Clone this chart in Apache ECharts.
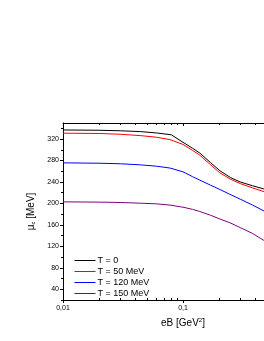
<!DOCTYPE html>
<html>
<head>
<meta charset="utf-8">
<script src="https://cdn.jsdelivr.net/npm/echarts@6/dist/echarts.min.js"></script>
<style>
html,body{margin:0;padding:0;background:#fff;overflow:hidden;width:264px;height:341px;}
#c{width:320px;height:341px;}
</style>
</head>
<body>
<div id="c"></div>
<script>
var seriesNames = ['T = 0', 'T = 50 MeV', 'T = 120 MeV', 'T = 150 MeV'];
var colors = ['#000000', '#ff0000', '#0000ff', '#800080'];
var t0 = [[0.01,337],[0.02,336.5],[0.03,335.5],[0.044,334],[0.06,331.5],[0.08,328],[0.1,314],[0.12,303],[0.138,294],[0.17,276],[0.203,261],[0.25,248],[0.3,240],[0.38,233],[0.473,227],[0.6,220]];
var t50 = [[0.01,331],[0.02,330.5],[0.03,329],[0.044,326.5],[0.06,323.5],[0.078,319],[0.1,310],[0.12,299],[0.138,290],[0.17,272],[0.203,257],[0.25,245],[0.3,237],[0.38,229],[0.473,222],[0.6,215]];
var t120 = [[0.01,275.7],[0.02,275],[0.03,274],[0.044,272],[0.06,269.5],[0.078,266],[0.1,259],[0.12,250],[0.138,243.5],[0.17,234],[0.203,226],[0.246,217],[0.3,208],[0.38,197],[0.473,186],[0.6,174]];
var t150 = [[0.01,203],[0.02,202.5],[0.03,201.8],[0.044,200.5],[0.06,199.3],[0.078,197],[0.1,193],[0.12,189],[0.138,185],[0.17,178],[0.203,171],[0.246,164],[0.3,155],[0.38,144],[0.473,131],[0.6,115]];
var yLabels = [40,80,120,160,200,240,280,320];
var yMinor = [20,60,100,140,180,220,260,300,340];
var xMajor = [0.01,0.1,1];
var xMinor = [0.02,0.03,0.04,0.05,0.06,0.07,0.08,0.09,0.2,0.3,0.4,0.5,0.6,0.7,0.8,0.9];

var font = 'Liberation Sans, Arial, sans-serif';
var chart = echarts.init(document.getElementById('c'), null, {renderer:'canvas'});
var data = [t0, t50, t120, t150];
var axisLine = {show:true, lineStyle:{color:'#000', width:1}};
chart.setOption({
  animation:false,
  grid:{left:63, right:17, top:123, bottom:41},
  legend:{
    orient:'vertical', left:69, top:250, itemWidth:21, itemHeight:8, itemGap:0,
    itemStyle:{opacity:0},
    lineStyle:{width:1},
    textStyle:{fontFamily:font, fontSize:9, lineHeight:11, color:'#000', padding:[0,0,0,-3]},
    data: seriesNames
  },
  xAxis:[
    {type:'log', min:0.01, max:1, logBase:10, position:'bottom',
     name:'eB [GeV{sup|2}]', nameLocation:'middle', nameGap:17,
     nameTextStyle:{fontFamily:font, fontSize:10, color:'#000', rich:{sup:{fontSize:6, verticalAlign:'top', padding:[0,0,6,0], fontFamily:font}}},
     axisLine:axisLine,
     axisTick:{show:true, inside:false, length:3, customValues:xMajor, lineStyle:{color:'#000'}},
     axisLabel:{show:true, customValues:xMajor, fontFamily:font, fontSize:7, color:'#000', margin:5,
       formatter:function(v){return String(v).replace('.',',');}},
     splitLine:{show:false}, minorTick:{show:false}},
    {type:'log', min:0.01, max:1, logBase:10, position:'bottom',
     axisLine:{show:false},
     axisTick:{show:true, inside:true, length:2, customValues:xMinor, lineStyle:{color:'#000'}},
     axisLabel:{show:false}, splitLine:{show:false}},
    {type:'log', min:0.01, max:1, logBase:10, position:'top',
     axisLine:axisLine,
     axisTick:{show:true, inside:true, length:3, customValues:xMajor, lineStyle:{color:'#000'}},
     axisLabel:{show:false}, splitLine:{show:false}},
    {type:'log', min:0.01, max:1, logBase:10, position:'top',
     axisLine:{show:false},
     axisTick:{show:true, inside:true, length:2, customValues:xMinor, lineStyle:{color:'#000'}},
     axisLabel:{show:false}, splitLine:{show:false}}
  ],
  yAxis:[
    {type:'value', min:20, max:350, position:'left',
     name:'\u03bc{sub|c} [MeV]', nameLocation:'middle', nameGap:20, nameRotate:90,
     nameTextStyle:{fontFamily:font, fontSize:10, color:'#000', rich:{sub:{fontSize:6, verticalAlign:'bottom', padding:[5,0,0,0], fontFamily:font}}},
     axisLine:axisLine,
     axisTick:{show:true, inside:false, length:3, customValues:yLabels, lineStyle:{color:'#000'}},
     axisLabel:{show:true, customValues:yLabels, fontFamily:font, fontSize:7, color:'#000', margin:4},
     splitLine:{show:false}},
    {type:'value', min:20, max:350, position:'left',
     axisLine:{show:false},
     axisTick:{show:true, inside:false, length:2, customValues:yMinor, lineStyle:{color:'#000'}},
     axisLabel:{show:false}, splitLine:{show:false}}
  ],
  series: data.map(function(d,i){
    return {name:seriesNames[i], type:'line', xAxisIndex:0, yAxisIndex:0, data:d,
      showSymbol:false, symbol:'none', smooth:false, lineStyle:{color:colors[i], width:1}, itemStyle:{color:colors[i]}, z:10-i};
  })
});
</script>
</body>
</html>
